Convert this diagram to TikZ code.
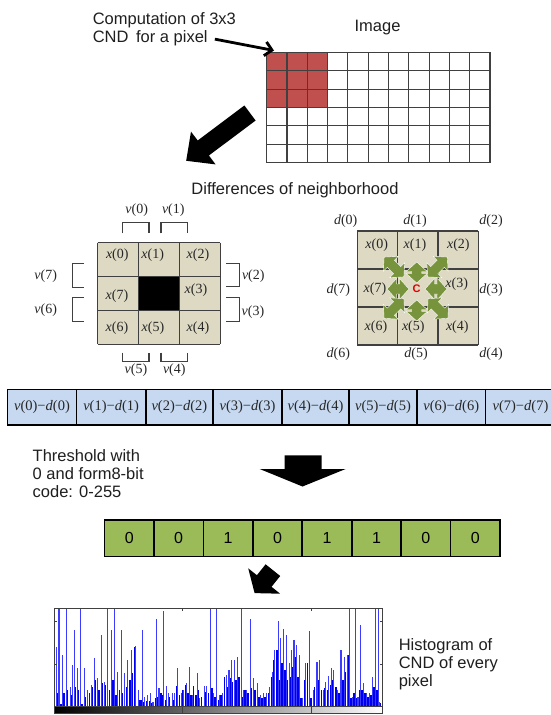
\documentclass[tikz,border=0pt]{standalone}
\usepackage{fontspec}
\setmainfont{Liberation Sans}
\newfontfamily\lblfont{Liberation Serif}
\usetikzlibrary{arrows.meta}
\definecolor{pixred}{HTML}{C0504D}
\definecolor{gridgray}{HTML}{404040}
\definecolor{celltan}{HTML}{DDD9C3}
\definecolor{arrowgreen}{HTML}{77933C}
\definecolor{bitgreen}{HTML}{9BBB59}
\definecolor{diffblue}{HTML}{C6D9F1}
\definecolor{histlight}{HTML}{3C3CFF}
\definecolor{histdark}{HTML}{0000F0}
\newcommand\xlab[1]{\textit{x}(#1)}
\newcommand\vlab[1]{\textit{v}(#1)}
\newcommand\dlab[1]{\textit{d}(#1)}
% double-headed neighbour arrow: centre x, centre y, angle, half length
\newcommand\nbarrow[4]{%
  \begin{scope}[shift={(#1,#2)}, rotate=#3]
    \fill[arrowgreen, draw=white, line width=0.4pt]
      (-#4,0) -- (-#4+9.5,10.5) -- (-#4+9.5,5) -- (#4-9.5,5) -- (#4-9.5,10.5) -- (#4,0)
      -- (#4-9.5,-10.5) -- (#4-9.5,-5) -- (-#4+9.5,-5) -- (-#4+9.5,-10.5) -- cycle;
  \end{scope}}
\tikzset{
  sans/.style={font=\fontsize{16.5}{18}\selectfont, inner sep=0pt, text=black!88},
  lbl/.style={font=\lblfont\fontsize{14}{14}\selectfont, inner sep=0pt, text=black!85},
  rowlbl/.style={font=\lblfont\fontsize{14.5}{14.5}\selectfont, inner sep=0pt, text=black!85},
  bracket/.style={gridgray, line width=1.3pt},
  cellline/.style={gridgray, line width=1.3pt},
  diffcell/.style={draw=black, line width=1.6pt, fill=diffblue, minimum height=35.5pt, inner sep=0pt},
  bitcell/.style={draw=black, line width=1.6pt, fill=bitgreen, minimum height=36.5pt, minimum width=49.45pt, inner sep=0pt, font=\fontsize{16}{16}\selectfont},
  blockarrow/.style={fill=black},
}
\begin{document}
\begin{tikzpicture}[x=1pt,y=-1pt]
\useasboundingbox (0,0) rectangle (551,715);
\fill[white] (0,0) rectangle (551,715);

% ---------- image grid ----------
\node[sans, anchor=base west] (comp1) at (92.6,24) {Computation of 3x3};
\node[sans, anchor=base west] (comp2) at (92.6,42.4) {CND\hspace{3pt} for a pixel};
\node[sans, anchor=base] (imglbl) at (377.5,31.8) {Image};

\fill[pixred] (266.7,52.3) rectangle (327.6,107.5);
\foreach \i in {0,...,11} \draw[cellline, line width=1.1pt] (266.7+20.3*\i,52.3) -- (266.7+20.3*\i,162.7);
\foreach \j in {0,...,6} \draw[cellline, line width=1.1pt] (266.7,52.3+18.4*\j) -- (490,52.3+18.4*\j);

\coordinate (gridhit) at (274,50.5);
\draw[line width=2.8pt, -{Straight Barb[length=7pt,width=14pt]}] ([xshift=7pt,yshift=-1pt]comp2.east) -- (gridhit);

% big arrow towards the neighbourhood
\fill[blockarrow] (255.6,120.5) -- (208.9,155.5) -- (215.6,164.4) -- (186.2,160.8)
  -- (191.0,131.6) -- (197.7,140.5) -- (244.4,105.5) -- cycle;

\node[sans, anchor=base] (difflbl) at (295,194) {Differences of neighborhood};

% ---------- left neighbourhood ----------
\fill[celltan] (97.5,242.7) rectangle (220.2,344.4);
\fill[black] (138.4,276.6) rectangle (179.3,310.5);
\foreach \i in {0,...,3} \draw[cellline] (97.5+40.9*\i,242.7) -- (97.5+40.9*\i,344.4);
\foreach \j in {0,...,3} \draw[cellline] (97.5,242.7+33.9*\j) -- (220.2,242.7+33.9*\j);

\node[lbl] (lx0) at (117.3,255) {\xlab{0}};
\node[lbl] (lx1) at (152.7,255) {\xlab{1}};
\node[lbl] (lx2) at (198,255) {\xlab{2}};
\node[lbl] (lx7) at (117,295.7) {\xlab{7}};
\node[lbl] (lx3) at (196,290) {\xlab{3}};
\node[lbl] (lx6) at (117,328) {\xlab{6}};
\node[lbl] (lx5) at (153,328) {\xlab{5}};
\node[lbl] (lx4) at (198,328) {\xlab{4}};

\draw[bracket] (122.3,233.3) -- (122.3,222.7) -- (149,222.7) -- (149,233.3);
\draw[bracket] (161,233.3) -- (161,222.7) -- (187.7,222.7) -- (187.7,233.3);
\draw[bracket] (122.3,352.7) -- (122.3,361.7) -- (149,361.7) -- (149,352.7);
\draw[bracket] (161,352.7) -- (161,361.7) -- (187.7,361.7) -- (187.7,352.7);
\draw[bracket] (226,263.3) -- (239.3,263.3) -- (239.3,286.7) -- (226,286.7);
\draw[bracket] (226,297.7) -- (239.3,297.7) -- (239.3,321.7) -- (226,321.7);
\draw[bracket] (84,263.3) -- (72.3,263.3) -- (72.3,287.3) -- (84,287.3);
\draw[bracket] (84,297.7) -- (72.3,297.7) -- (72.3,321.7) -- (84,321.7);

\node[lbl] (v0) at (136.7,210) {\vlab{0}};
\node[lbl] (v1) at (173.3,210) {\vlab{1}};
\node[lbl] (v2) at (253.3,275.7) {\vlab{2}};
\node[lbl] (v3) at (253,311.7) {\vlab{3}};
\node[lbl] (v7) at (45.7,275.7) {\vlab{7}};
\node[lbl] (v6) at (45.7,309.7) {\vlab{6}};
\node[lbl] (v5) at (136,370) {\vlab{5}};
\node[lbl] (v4) at (174.3,370) {\vlab{4}};

% ---------- right neighbourhood ----------
\fill[celltan] (357.3,231) rectangle (478.2,345);
\foreach \i in {0,...,3} \draw[cellline] (357.3+40.3*\i,231) -- (357.3+40.3*\i,345);
\foreach \j in {0,...,3} \draw[cellline] (357.3,231+38*\j) -- (478.2,231+38*\j);

\node[lbl] (rx0) at (376.7,245) {\xlab{0}};
\node[lbl] (rx1) at (415,245) {\xlab{1}};
\node[lbl] (rx2) at (458.3,245) {\xlab{2}};
\node[lbl] (rx7) at (375,289) {\xlab{7}};
\node[lbl] (rx3) at (456.7,284) {\xlab{3}};
\node[lbl] (rx6) at (376,327.3) {\xlab{6}};
\node[lbl] (rx5) at (413.3,327.3) {\xlab{5}};
\node[lbl] (rx4) at (457.3,327.3) {\xlab{4}};

\node[lbl] (d0) at (345.7,221) {\dlab{0}};
\node[lbl] (d1) at (415,221) {\dlab{1}};
\node[lbl] (d2) at (491,221) {\dlab{2}};
\node[lbl] (d7) at (338.3,290) {\dlab{7}};
\node[lbl] (d3) at (491,290) {\dlab{3}};
\node[lbl] (d6) at (338.3,354.3) {\dlab{6}};
\node[lbl] (d5) at (416,354.3) {\dlab{5}};
\node[lbl] (d4) at (491,354.3) {\dlab{4}};

\nbarrow{416.7}{272.5}{90}{10.5}
\nbarrow{416.7}{310.5}{90}{10.5}
\nbarrow{398}{289}{0}{11}
\nbarrow{436}{289}{0}{11}
\nbarrow{394}{267}{-45}{14}
\nbarrow{437.5}{267}{45}{14}
\nbarrow{394}{308.5}{45}{14}
\nbarrow{438}{308.5}{-45}{14}
\node[font=\bfseries\fontsize{11}{11}\selectfont, text={rgb,255:red,224;green,0;blue,0}, inner sep=0pt] (ctr) at (416.7,289) {C};

% ---------- differences row ----------
\node[diffcell, minimum width=69pt, rowlbl] (r0) at (42,407.2) {\vlab{0}−\dlab{0}};
\node[diffcell, minimum width=69.3pt, rowlbl] (r1) at (111.15,407.2) {\vlab{1}−\dlab{1}};
\node[diffcell, minimum width=67.2pt, rowlbl] (r2) at (179.4,407.2) {\vlab{2}−\dlab{2}};
\node[diffcell, minimum width=69pt, rowlbl] (r3) at (247.5,407.2) {\vlab{3}−\dlab{3}};
\node[diffcell, minimum width=67pt, rowlbl] (r4) at (315.5,407.2) {\vlab{4}−\dlab{4}};
\node[diffcell, minimum width=68pt, rowlbl] (r5) at (383,407.2) {\vlab{5}−\dlab{5}};
\node[diffcell, minimum width=68.5pt, rowlbl] (r6) at (451.25,407.2) {\vlab{6}−\dlab{6}};
\node[diffcell, minimum width=70pt, rowlbl] (r7) at (520.5,407.2) {\vlab{7}−\dlab{7}};

% ---------- thresholding ----------
\node[sans, anchor=base west] (th1) at (32.5,461) {Threshold with};
\node[sans, anchor=base west] (th2) at (32.5,479.5) {0 and form8-bit};
\node[sans, anchor=base west] (th3) at (32.5,497.8) {code: 0-255};

\fill[blockarrow] (284.5,455.4) -- (321.6,455.4) -- (321.6,469) -- (345.6,469)
  -- (302.5,486.5) -- (259.7,469) -- (284.5,469) -- cycle;

\foreach \b [count=\k from 0] in {0,0,1,0,1,1,0,0}
  \node[bitcell] (b\k) at (129.2+49.45*\k,538.25) {\b};

\fill[blockarrow] (280.2,576) -- (271.5,586.8) -- (280.2,593.7) -- (254.6,593.1)
  -- (248.2,568.3) -- (256.9,575.2) -- (265.6,564.3) -- cycle;

% ---------- histogram ----------
\begin{scope}[shift={(0pt,-580pt)}, x=0.35336pt, y=-0.33333pt]
  \foreach \a/\b in {165/340,172/372,182/340,190/330,200/345,205/255,213/320,222/330,232/372,242/350,
    253/340,262/320,270/300,280/330,290/310,298/315,310/330,320/300,328/345,338/330,345/340,352/345,
    360/320,367/300,375/280,383/200,393/360,400/360,408/365,415/362,423/362,430/370,440/355,448/350,
    455/340,462/345,470/360,480/352,490/360,500/318,508/345,517/330,525/315,533/340,540/345,548/318,
    555/345,562/330,570/350,580/335,590/340,600/325,608/350,618/360,626/345,635/290,643/320,650/295,
    658/305,667/300,677/290,686/350,694/330,702/340,712/325,722/330,732/350,742/355,750/350,760/340,
    768/290,775/240,783/210,790/300,798/250,806/270,814/300,822/290,830/260,836/230,844/290,852/355,
    862/300,870/250,880/355,890/320,900/300,910/330,920/325,927/330,935/315,942/300,950/320,960/340,
    970/300,978/275,986/225,994/355,1002/340,1010/355,1017/330,1025/330,1033/340,1041/350,1050/345,
    1058/320,1066/330,1075/370}
    \fill[histdark] (\a-2.4,378) rectangle (\a+2.4,\b);
  \foreach \a/\b in {160/200,167/85,178/225,187/85,200/320,205/255,212/150,220/265,228/88,238/265,
    248/330,258/315,268/235,275/295,288/165,297/305,305/88,315/150,323/88,333/275,343/150,353/280,
    362/240,373/210,383/198,392/330,402/150,410/350,418/345,425/340,433/365,443/118,450/325,462/92,
    470/318,478/340,487/340,493/340,503/265,513/340,520/330,528/310,537/262,545/345,558/280,565/355,
    578/318,585/318,595/85,605/340,613/85,622/345,630/340,640/285,648/270,655/240,663/240,673/230,
    683/85,690/330,698/330,708/118,718/295,728/310,738/345,746/340,755/340,763/320,770/275,778/210,
    788/122,795/175,803/148,810/165,818/250,825/210,832/180,840/195,848/225,856/355,865/250,876/152,
    887/330,897/245,905/240,915/330,922/305,930/288,938/265,945/270,955/330,965/210,975/230,983/225,
    990/85,998/352,1005/85,1013/350,1020/135,1028/308,1037/340,1045/340,1055/292,1062/85,1070/85,1075/365}
    \draw[histlight, line width=1.1pt] (\a,378) -- (\a,\b);
  \shade[left color=black, right color=white] (155,378) rectangle (1083,400);
  \draw[gridgray, line width=0.8pt] (155,85) rectangle (1083,400);
  \draw[gridgray, line width=0.8pt] (155,378) -- (1083,378);
  \foreach \a in {517,880} {
    \draw[gridgray, line width=0.8pt] (\a,85) -- (\a,92);
    \draw[gridgray, line width=0.8pt] (\a,378) -- (\a,400);
  }
  \foreach \b in {125,253} {
    \draw[gridgray, line width=0.8pt] (155,\b) -- (162,\b);
    \draw[gridgray, line width=0.8pt] (1083,\b) -- (1076,\b);
  }
\end{scope}

\node[sans, anchor=base west] (h1) at (398.6,650) {Histogram of};
\node[sans, anchor=base west] (h2) at (398.6,668.3) {CND of every};
\node[sans, anchor=base west] (h3) at (398.6,686.7) {pixel};

\end{tikzpicture}
\end{document}
